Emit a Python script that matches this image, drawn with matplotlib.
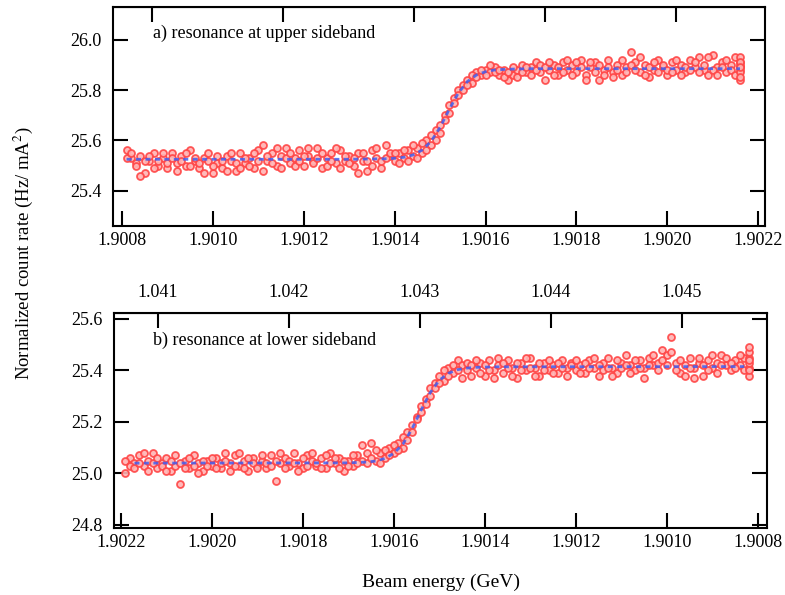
import matplotlib
matplotlib.use("Agg")
import matplotlib.pyplot as plt

plt.rcParams['font.family'] = ['Liberation Serif', 'DejaVu Serif']
plt.rcParams['mathtext.fontset'] = 'stix'

# ---- panel a: resonance at upper sideband (two scans share energies) ----
energy_a = [
    1.90081, 1.90082, 1.90083, 1.90084, 1.90085, 1.90086, 1.90087, 1.90088, 1.90089, 1.90090,
    1.90091, 1.90092, 1.90093, 1.90094, 1.90095, 1.90096, 1.90097, 1.90098, 1.90099, 1.90100,
    1.90101, 1.90102, 1.90103, 1.90104, 1.90105, 1.90106, 1.90107, 1.90108, 1.90109, 1.90110,
    1.90111, 1.90112, 1.90113, 1.90114, 1.90115, 1.90116, 1.90117, 1.90118, 1.90119, 1.90120,
    1.90121, 1.90122, 1.90123, 1.90124, 1.90125, 1.90126, 1.90127, 1.90128, 1.90129, 1.90130,
    1.90131, 1.90132, 1.90133, 1.90134, 1.90135, 1.90136, 1.90137, 1.90138, 1.90139, 1.90140,
    1.90141, 1.90142, 1.90143, 1.90144, 1.90145, 1.90146, 1.90147, 1.90148, 1.90149, 1.90150,
    1.90151, 1.90152, 1.90153, 1.90154, 1.90155, 1.90156, 1.90157, 1.90158, 1.90159, 1.90160,
    1.90161, 1.90162, 1.90163, 1.90164, 1.90165, 1.90166, 1.90167, 1.90168, 1.90169, 1.90170,
    1.90171, 1.90172, 1.90173, 1.90174, 1.90175, 1.90176, 1.90177, 1.90178, 1.90179, 1.90180,
    1.90181, 1.90182, 1.90183, 1.90184, 1.90185, 1.90186, 1.90187, 1.90188, 1.90189, 1.90190,
    1.90191, 1.90192, 1.90193, 1.90194, 1.90195, 1.90196, 1.90197, 1.90198, 1.90199, 1.90200,
    1.90201, 1.90202, 1.90203, 1.90204, 1.90205, 1.90206, 1.90207, 1.90208, 1.90209, 1.90210,
    1.90211, 1.90212, 1.90213, 1.90214, 1.90215, 1.90216,
]
rate_a1 = [
    25.56, 25.53, 25.51, 25.54, 25.47, 25.52, 25.55, 25.50, 25.53, 25.49,
    25.55, 25.51, 25.54, 25.50, 25.56, 25.52, 25.49, 25.53, 25.55, 25.47,
    25.51, 25.49, 25.54, 25.52, 25.48, 25.55, 25.51, 25.53, 25.49, 25.56,
    25.58, 25.52, 25.55, 25.50, 25.54, 25.57, 25.51, 25.53, 25.56, 25.50,
    25.54, 25.52, 25.57, 25.49, 25.53, 25.55, 25.51, 25.56, 25.52, 25.54,
    25.50, 25.55, 25.52, 25.48, 25.56, 25.53, 25.49, 25.58, 25.54, 25.52,
    25.55, 25.53, 25.56, 25.54, 25.57, 25.55, 25.60, 25.58, 25.64, 25.66,
    25.70, 25.71, 25.77, 25.80, 25.82, 25.84, 25.83, 25.87, 25.86, 25.88,
    25.87, 25.89, 25.86, 25.88, 25.84, 25.86, 25.88, 25.90, 25.87, 25.89,
    25.91, 25.87, 25.84, 25.88, 25.90, 25.86, 25.91, 25.88, 25.90, 25.87,
    25.92, 25.86, 25.89, 25.91, 25.84, 25.88, 25.92, 25.87, 25.90, 25.86,
    25.89, 25.95, 25.91, 25.87, 25.90, 25.85, 25.88, 25.92, 25.89, 25.86,
    25.91, 25.88, 25.90, 25.87, 25.92, 25.89, 25.93, 25.88, 25.86, 25.94,
    25.89, 25.91, 25.87, 25.90, 25.93, 25.89,
]
rate_a2 = [
    25.53, 25.55, 25.50, 25.46, 25.52, 25.54, 25.49, 25.52, 25.55, 25.51,
    25.53, 25.48, 25.52, 25.55, 25.50, 25.53, 25.51, 25.47, 25.52, 25.50,
    25.54, 25.52, 25.48, 25.55, 25.51, 25.49, 25.53, 25.50, 25.55, 25.52,
    25.48, 25.54, 25.51, 25.57, 25.49, 25.53, 25.55, 25.50, 25.52, 25.54,
    25.57, 25.51, 25.53, 25.55, 25.50, 25.52, 25.57, 25.49, 25.54, 25.51,
    25.53, 25.47, 25.55, 25.52, 25.50, 25.57, 25.52, 25.53, 25.55, 25.55,
    25.51, 25.56, 25.52, 25.58, 25.53, 25.59, 25.56, 25.62, 25.60, 25.63,
    25.68, 25.74, 25.75, 25.78, 25.80, 25.82, 25.86, 25.85, 25.88, 25.86,
    25.90, 25.87, 25.88, 25.85, 25.87, 25.89, 25.85, 25.87, 25.89, 25.86,
    25.88, 25.90, 25.89, 25.91, 25.86, 25.89, 25.87, 25.92, 25.86, 25.91,
    25.89, 25.84, 25.91, 25.87, 25.90, 25.86, 25.89, 25.85, 25.88, 25.92,
    25.87, 25.90, 25.88, 25.93, 25.86, 25.89, 25.91, 25.87, 25.90, 25.88,
    25.87, 25.92, 25.86, 25.89, 25.88, 25.91, 25.87, 25.90, 25.93, 25.88,
    25.86, 25.89, 25.92, 25.88, 25.86, 25.91,
]
end_energy_a = 1.90216
end_rates_a = [25.84, 25.88, 25.90, 25.93, 25.87, 25.91, 25.85, 25.89]

fit_energy_a = [1.90081, 1.90130, 1.90138, 1.90140, 1.90142, 1.90144, 1.90146, 1.90148,
                1.90150, 1.90152, 1.90154, 1.90156, 1.90158, 1.90160, 1.90162, 1.90165,
                1.90170, 1.90216]
fit_rate_a = [25.525, 25.525, 25.527, 25.529, 25.533, 25.542, 25.561, 25.596,
              25.652, 25.723, 25.788, 25.834, 25.860, 25.873, 25.880, 25.883,
              25.885, 25.885]

# ---- panel b: resonance at lower sideband ----
energy_b = [
    1.90219, 1.90218, 1.90217, 1.90216, 1.90215, 1.90214, 1.90213, 1.90212, 1.90211, 1.90210,
    1.90209, 1.90208, 1.90207, 1.90206, 1.90205, 1.90204, 1.90203, 1.90202, 1.90201, 1.90200,
    1.90199, 1.90198, 1.90197, 1.90196, 1.90195, 1.90194, 1.90193, 1.90192, 1.90191, 1.90190,
    1.90189, 1.90188, 1.90187, 1.90186, 1.90185, 1.90184, 1.90183, 1.90182, 1.90181, 1.90180,
    1.90179, 1.90178, 1.90177, 1.90176, 1.90175, 1.90174, 1.90173, 1.90172, 1.90171, 1.90170,
    1.90169, 1.90168, 1.90167, 1.90166, 1.90165, 1.90164, 1.90163, 1.90162, 1.90161, 1.90160,
    1.90159, 1.90158, 1.90157, 1.90156, 1.90155, 1.90154, 1.90153, 1.90152, 1.90151, 1.90150,
    1.90149, 1.90148, 1.90147, 1.90146, 1.90145, 1.90144, 1.90143, 1.90142, 1.90141, 1.90140,
    1.90139, 1.90138, 1.90137, 1.90136, 1.90135, 1.90134, 1.90133, 1.90132, 1.90131, 1.90130,
    1.90129, 1.90128, 1.90127, 1.90126, 1.90125, 1.90124, 1.90123, 1.90122, 1.90121, 1.90120,
    1.90119, 1.90118, 1.90117, 1.90116, 1.90115, 1.90114, 1.90113, 1.90112, 1.90111, 1.90110,
    1.90109, 1.90108, 1.90107, 1.90106, 1.90105, 1.90104, 1.90103, 1.90102, 1.90101, 1.90100,
    1.90099, 1.90098, 1.90097, 1.90096, 1.90095, 1.90094, 1.90093, 1.90092, 1.90091, 1.90090,
    1.90089, 1.90088, 1.90087, 1.90086, 1.90085, 1.90084, 1.90083,
]
rate_b1 = [
    25.00, 25.06, 25.04, 25.07, 25.03, 25.05, 25.08, 25.02, 25.04, 25.06,
    25.01, 25.03, 24.96, 25.05, 25.02, 25.07, 25.04, 25.01, 25.05, 25.03,
    25.06, 25.02, 25.08, 25.04, 25.07, 25.03, 25.05, 25.01, 25.06, 25.03,
    25.05, 25.02, 25.07, 24.97, 25.04, 25.06, 25.03, 25.08, 25.04, 25.02,
    25.07, 25.05, 25.03, 25.06, 25.02, 25.08, 25.04, 25.06, 25.01, 25.05,
    25.03, 25.07, 25.05, 25.08, 25.12, 25.05, 25.08, 25.06, 25.10, 25.08,
    25.12, 25.10, 25.16, 25.19, 25.22, 25.26, 25.29, 25.33, 25.35, 25.38,
    25.36, 25.41, 25.39, 25.44, 25.42, 25.40, 25.38, 25.41, 25.43, 25.38,
    25.44, 25.40, 25.42, 25.39, 25.44, 25.41, 25.37, 25.43, 25.40, 25.45,
    25.41, 25.38, 25.43, 25.40, 25.42, 25.39, 25.44, 25.41, 25.43, 25.40,
    25.42, 25.39, 25.44, 25.41, 25.38, 25.43, 25.45, 25.41, 25.39, 25.43,
    25.46, 25.42, 25.40, 25.44, 25.41, 25.45, 25.42, 25.40, 25.48, 25.46,
    25.53, 25.43, 25.39, 25.42, 25.45, 25.41, 25.43, 25.38, 25.44, 25.41,
    25.43, 25.46, 25.42, 25.40, 25.44, 25.42, 25.45,
]
rate_b2 = [
    25.05, 25.03, 25.02, 25.04, 25.08, 25.01, 25.04, 25.06, 25.03, 25.01,
    25.05, 25.07, 25.04, 25.02, 25.06, 25.03, 25.00, 25.05, 25.03, 25.06,
    25.02, 25.04, 25.05, 25.01, 25.03, 25.08, 25.02, 25.06, 25.04, 25.02,
    25.07, 25.04, 25.03, 25.05, 25.08, 25.02, 25.05, 25.04, 25.01, 25.06,
    25.03, 25.08, 25.04, 25.02, 25.07, 25.04, 25.06, 25.02, 25.05, 25.03,
    25.07, 25.04, 25.11, 25.04, 25.06, 25.09, 25.04, 25.09, 25.07, 25.11,
    25.09, 25.14, 25.13, 25.16, 25.21, 25.24, 25.27, 25.30, 25.33, 25.35,
    25.40, 25.38, 25.42, 25.40, 25.37, 25.43, 25.42, 25.44, 25.39, 25.42,
    25.40, 25.37, 25.45, 25.43, 25.41, 25.38, 25.43, 25.40, 25.45, 25.41,
    25.38, 25.43, 25.40, 25.44, 25.39, 25.43, 25.41, 25.38, 25.42, 25.44,
    25.39, 25.43, 25.41, 25.45, 25.42, 25.40, 25.41, 25.38, 25.44, 25.41,
    25.42, 25.39, 25.44, 25.41, 25.37, 25.42, 25.46, 25.43, 25.44, 25.42,
    25.47, 25.40, 25.44, 25.38, 25.41, 25.37, 25.45, 25.42, 25.40, 25.46,
    25.39, 25.42, 25.45, 25.43, 25.41, 25.46, 25.40,
]
end_energy_b = 1.90082
end_rates_b = [25.38, 25.41, 25.43, 25.45, 25.47, 25.49, 25.40, 25.44]

fit_energy_b = [1.90217, 1.90170, 1.90166, 1.90164, 1.90162, 1.90160, 1.90158, 1.90156,
                1.90154, 1.90152, 1.90150, 1.90148, 1.90146, 1.90144, 1.90142, 1.90138,
                1.90083]
fit_rate_b = [25.040, 25.041, 25.044, 25.048, 25.058, 25.078, 25.114, 25.173,
              25.246, 25.314, 25.362, 25.389, 25.403, 25.409, 25.412, 25.414,
              25.415]

top_ticks = [1.041, 1.042, 1.043, 1.044, 1.045]

pt_kw = dict(ls='none', marker='o', ms=5, mfc='#ffb3b3', mec='#ff4545', mew=1.3, alpha=0.9, zorder=2)
fit_kw = dict(color='#3f5ff0', lw=2, ls=(0, (1.8, 1.6)), alpha=0.85, zorder=3)

fig = plt.figure(figsize=(7.85, 5.95), dpi=100)
ax_a = fig.add_axes([0.1439, 0.6202, 0.8306, 0.368])
ax_b = fig.add_axes([0.1452, 0.1126, 0.8318, 0.3613])

ax_a.plot(energy_a, rate_a1, **pt_kw)
ax_a.plot(energy_a, rate_a2, **pt_kw)
ax_a.plot([end_energy_a] * len(end_rates_a), end_rates_a, **pt_kw)
ax_a.plot(fit_energy_a, fit_rate_a, **fit_kw)
ax_a.set_xlim(1.90078, 1.902215)
ax_a.set_ylim(25.26, 26.13)
ax_a.set_xticks([1.9008, 1.9010, 1.9012, 1.9014, 1.9016, 1.9018, 1.9020, 1.9022])
ax_a.set_yticks([25.4, 25.6, 25.8, 26.0])
ax_a.text(0.0613, 0.881, 'a) resonance at upper sideband', transform=ax_a.transAxes,
          fontsize=13, va='center', ha='left')

ax_b.plot(energy_b, rate_b1, **pt_kw)
ax_b.plot(energy_b, rate_b2, **pt_kw)
ax_b.plot([end_energy_b] * len(end_rates_b), end_rates_b, **pt_kw)
ax_b.plot(fit_energy_b, fit_rate_b, **fit_kw)
ax_b.set_xlim(1.902215, 1.90078)
ax_b.set_ylim(24.788, 25.623)
ax_b.set_xticks([1.9022, 1.9020, 1.9018, 1.9016, 1.9014, 1.9012, 1.9010, 1.9008])
ax_b.set_yticks([24.8, 25.0, 25.2, 25.4, 25.6])
ax_b.text(0.0597, 0.874, 'b) resonance at lower sideband', transform=ax_b.transAxes,
          fontsize=13, va='center', ha='left')

for ax in (ax_a, ax_b):
    ax.xaxis.set_major_formatter(plt.FormatStrFormatter('%.4f'))
    ax.yaxis.set_major_formatter(plt.FormatStrFormatter('%.1f'))
    ax.tick_params(axis='both', direction='in', length=11, width=1.5, labelsize=13)
    ax.tick_params(axis='y', right=True, pad=8)
    ax.tick_params(axis='x', pad=4)
    for s in ax.spines.values():
        s.set_linewidth(1.5)

# secondary energy scale on top (labelled only in panel b)
sec_a = ax_a.secondary_xaxis('top', functions=(lambda e: 1.041 + 3.4715 * (e - 1.900866),
                                               lambda t: 1.900866 + (t - 1.041) / 3.4715))
sec_a.set_xticks(top_ticks)
sec_a.tick_params(direction='in', length=11, width=1.5, labeltop=False)

sec_b = ax_b.secondary_xaxis('top', functions=(lambda e: 1.040719 + (1.9022 - e) * 3.4707,
                                               lambda t: 1.9022 - (t - 1.040719) / 3.4707))
sec_b.set_xticks(top_ticks)
sec_b.xaxis.set_major_formatter(plt.FormatStrFormatter('%.3f'))
sec_b.tick_params(direction='in', length=11, width=1.5, labelsize=13, pad=9)

fig.text(23 / 785, 1 - 253 / 595, 'Normalized count rate (Hz/ mA$^2$)', rotation=90,
         ha='center', va='center', fontsize=13.5)
fig.text(441 / 785, 1 - 582 / 595, 'Beam energy (GeV)', ha='center', va='center', fontsize=14)

fig.savefig('out.png', dpi=100)
